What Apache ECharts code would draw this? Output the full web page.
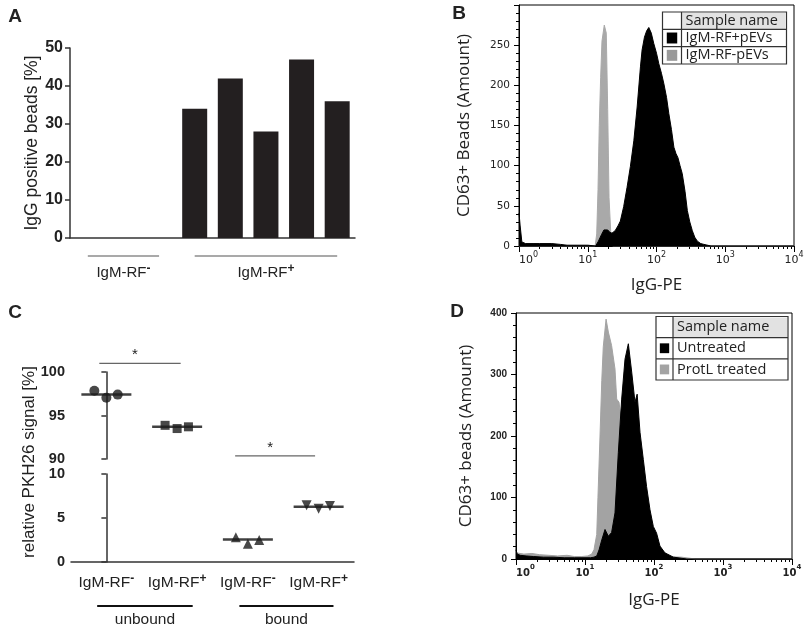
<!DOCTYPE html>
<html>
<head>
<meta charset="utf-8">
<script src="https://cdn.jsdelivr.net/npm/echarts@6.0.0/dist/echarts.min.js"></script>
<style>
html, body { margin: 0; padding: 0; background: #fff; }
#main { width: 810px; height: 624px; }
</style>
</head>
<body>
<div id="main"></div>
<script>
// ---- panel A: IgG positive beads per donor
var aCats = ['neg1', 'neg2', 'neg3', 'pos1', 'pos2', 'pos3', 'pos4', 'pos5'];
var aValues = [0, 0, 0, 34, 42, 28, 47, 36];
var aGroupNames = ['IgM-RF', 'IgM-RF'];
var aGroupSups = ['-', '+'];
var aGroupSpan = [[0, 2], [3, 7]];

// ---- panel B: histogram, IgG-PE (x) vs count (y)
var bPosX = [1.0, 1.04, 1.1, 1.25, 1.6, 2, 3, 4, 5, 7, 10, 13, 14.3, 15.8, 17.2, 18.2, 19.5, 21, 22.5, 25, 27.5, 29.8, 33.3, 37.3, 41.7, 46.8, 52.3, 58.4, 61.7, 66.8, 72, 77.3, 84, 91.3, 100, 108, 118, 128, 140, 151, 165, 179, 192, 205, 220, 237, 260, 281, 305, 332, 360, 393, 440, 490, 620, 10000];
var bPosY = [41, 25, 5, 3, 3, 3, 3, 2, 1, 1, 1, 0, 6, 14, 20, 22, 20, 17, 16, 19, 25, 31, 49, 73, 99, 131, 173, 223, 244, 260, 268, 272, 265, 252, 240, 227, 215, 202, 185, 165, 145, 123, 115, 110, 100, 90, 68, 44, 30, 19, 11, 6, 3, 2, 0, 0];
var bNegX = [1, 12.8, 13.5, 14.1, 14.7, 15.4, 16.1, 17.4, 18.6, 19.5, 20.4, 21.8, 23, 10000];
var bNegY = [0, 0, 15, 70, 150, 210, 255, 275, 265, 170, 60, 10, 0, 0];
var bLegend = ['Sample name', 'IgM-RF+pEVs', 'IgM-RF-pEVs'];

// ---- panel C: relative PKH26 signal
var cCats = ['unbound IgM-RF-', 'unbound IgM-RF+', 'bound IgM-RF-', 'bound IgM-RF+'];
var cCatName = 'IgM-RF';
var cCatSups = ['-', '+', '-', '+'];
var cJitter = [-0.17, 0, 0.16];
var cUnbNeg = [97.85, 97.05, 97.4];
var cUnbPos = [93.87, 93.5, 93.7];
var cBndNeg = [2.82, 2.06, 2.5];
var cBndPos = [6.45, 6.06, 6.37];
var cMeans = [97.4, 93.7, 2.55, 6.28];
var cSigSpan = [[-0.1, 1.05], [1.82, 2.95]];
var cSigY = [101.0, 90.35];
var cGroupNames = ['unbound', 'bound'];
var cGroupSpan = [[-0.13, 1.22], [1.88, 3.21]];

// ---- panel D: histogram, untreated vs ProtL treated
var dUntrX = [1, 1.04, 1.15, 1.4, 1.8, 2.5, 3.5, 5, 7, 10, 12, 13.5, 14.8, 16, 17.5, 19.5, 21.8, 24.3, 27.2, 30.4, 34, 38, 42.5, 47.5, 53, 57, 62.7, 70, 78, 87.5, 97.7, 109, 122, 144, 191, 300, 10000];
var dUntrY = [15, 8, 6, 5, 4, 3, 3, 2, 2, 2, 2, 3, 5, 15, 31, 48, 37, 43, 75, 173, 260, 325, 350, 304, 255, 268, 206, 162, 118, 80, 53, 42, 21, 10, 3, 0, 0];
var dProtX = [1, 1.3, 1.7, 2.2, 3, 4, 5.5, 7, 9, 11, 12.5, 13.5, 14.8, 15.4, 16.5, 17.5, 18.4, 20.2, 21.8, 24.3, 27.2, 28.8, 31.1, 33.3, 35.2, 40, 50, 60, 80, 120, 250, 400, 10000];
var dProtY = [10, 8, 9, 7, 6, 5, 6, 4, 4, 5, 8, 15, 40, 100, 200, 290, 345, 390, 369, 347, 309, 260, 255, 228, 184, 120, 50, 20, 8, 4, 3, 0, 0];
var dLegend = ['Sample name', 'Untreated', 'ProtL treated'];

// log axis ticks
var logMajor = [1, 10, 100, 1000, 10000];
var logMinor = [];
for (var d = 1; d < 10000; d *= 10) {
    for (var k = 2; k < 10; k++) logMinor.push(d * k);
}

var ARIAL = '"Liberation Sans", Arial, sans-serif';
var CALI = '"Open Sans", sans-serif';
var INK = '#222';

function pairs(xs, ys) {
    var out = [];
    for (var i = 0; i < xs.length; i++) out.push([xs[i], ys[i]]);
    return out;
}
function jittered(group, vals) {
    var out = [];
    for (var i = 0; i < vals.length; i++) out.push([group + cJitter[i], vals[i]]);
    return out;
}

function logLabel(v) {
    return '{b|10}{s|' + Math.round(Math.log10(v)) + '}';
}

function logAxes(grid, fontWeight, fontSize, supSize) {
    return [{
        type: 'log', gridIndex: grid, min: 1, max: 10000, position: 'bottom',
        axisLine: {lineStyle: {color: '#000', width: 1}},
        axisTick: {show: true, length: 6, customValues: logMajor, lineStyle: {color: '#000'}},
        axisLabel: {
            customValues: logMajor, margin: 5, formatter: logLabel, alignMinLabel: 'left',
            rich: {
                b: {fontSize: fontSize, fontWeight: fontWeight, fontFamily: 'DejaVu Sans', color: INK, lineHeight: 18},
                s: {fontSize: supSize, fontWeight: fontWeight, fontFamily: 'DejaVu Sans', color: INK, verticalAlign: 'top'}
            }
        },
        splitLine: {show: false},
        name: 'IgG-PE', nameLocation: 'middle',
        nameTextStyle: {fontFamily: CALI, fontSize: 17, color: INK}
    }, {
        type: 'log', gridIndex: grid, min: 1, max: 10000, position: 'bottom',
        axisLine: {show: false},
        axisTick: {show: true, length: 3, customValues: logMinor, lineStyle: {color: '#000'}},
        axisLabel: {show: false},
        splitLine: {show: false}
    }];
}

var bX = logAxes(1, 'normal', 11, 8);
bX[0].nameGap = 31;
var dX = logAxes(4, 'bold', 10, 7);
dX[0].nameGap = 33;

var histArea = function (name, x, y, color, xi, yi, z) {
    return {
        name: name, type: 'line', xAxisIndex: xi, yAxisIndex: yi, z: z,
        data: pairs(x, y), showSymbol: false, symbol: 'none',
        lineStyle: {color: color, width: 1}, areaStyle: {color: color, opacity: 1},
        itemStyle: {color: color}
    };
};

var axisGray = {color: '#333', width: 1.5};

var option = {
    animation: false,
    backgroundColor: '#fff',
    grid: [
        {left: 70, top: 48, width: 285, height: 190, outerBoundsMode: 'none'},
        {left: 519, top: 5, width: 275, height: 241, show: true, borderColor: '#000', borderWidth: 1, outerBoundsMode: 'none'},
        {left: 71, top: 372, width: 283, height: 87, outerBoundsMode: 'none'},
        {left: 71, top: 474, width: 283, height: 88, outerBoundsMode: 'none'},
        {left: 516, top: 313, width: 276, height: 246, show: true, borderColor: '#000', borderWidth: 1, outerBoundsMode: 'none'}
    ],
    xAxis: [
        {
            type: 'category', gridIndex: 0, data: aCats,
            axisLine: {lineStyle: axisGray},
            axisTick: {alignWithLabel: true, length: 6, lineStyle: axisGray},
            axisLabel: {show: false}
        },
        bX[0], bX[1],
        {type: 'value', gridIndex: 2, min: -0.5, max: 3.5, show: false},
        {
            type: 'category', gridIndex: 3, data: cCats,
            axisLine: {lineStyle: axisGray},
            axisTick: {alignWithLabel: true, length: 6, lineStyle: axisGray},
            axisLabel: {
                margin: 11, interval: 0, hideOverlap: false,
                formatter: function (v, i) { return '{n|' + cCatName + '}{s|' + cCatSups[i] + '}'; },
                rich: {
                    n: {fontSize: 15.5, fontFamily: ARIAL, color: INK, lineHeight: 20},
                    s: {fontSize: 12, fontWeight: 'bold', fontFamily: ARIAL, color: INK, verticalAlign: 'top'}
                }
            }
        },
        {type: 'value', gridIndex: 3, min: -0.5, max: 3.5, show: false},
        dX[0], dX[1]
    ],
    yAxis: [
        {
            type: 'value', gridIndex: 0, min: 0, max: 50, interval: 10,
            axisLine: {show: true, lineStyle: axisGray},
            axisTick: {show: true, length: 5, lineStyle: axisGray},
            axisLabel: {fontFamily: ARIAL, fontWeight: 'bold', fontSize: 16, color: INK, margin: 7},
            splitLine: {show: false},
            name: 'IgG positive beads [%]', nameLocation: 'middle', nameGap: 28,
            nameTextStyle: {fontFamily: ARIAL, fontSize: 17.5, color: INK}
        },
        {
            type: 'value', gridIndex: 1, min: 0, max: 300, interval: 50,
            axisLine: {show: true, lineStyle: {color: '#000'}},
            axisTick: {show: true, length: 5, lineStyle: {color: '#000'}},
            minorTick: {show: true, splitNumber: 5, length: 3, lineStyle: {color: '#000'}},
            axisLabel: {fontFamily: 'DejaVu Sans', fontSize: 10.5, color: INK, margin: 9, showMaxLabel: false},
            splitLine: {show: false},
            name: 'CD63+ Beads (Amount)', nameLocation: 'middle', nameGap: 46,
            nameTextStyle: {fontFamily: CALI, fontSize: 17, color: INK}
        },
        {
            type: 'value', gridIndex: 2, min: 90, max: 100, interval: 5,
            axisLine: {show: true, lineStyle: axisGray},
            axisTick: {show: true, length: 5, lineStyle: axisGray},
            axisLabel: {fontFamily: ARIAL, fontWeight: 'bold', fontSize: 14.5, color: INK, margin: 6},
            splitLine: {show: false}
        },
        {
            type: 'value', gridIndex: 3, min: 0, max: 10, interval: 5,
            axisLine: {show: true, lineStyle: axisGray},
            axisTick: {show: true, length: 5, lineStyle: axisGray},
            axisLabel: {fontFamily: ARIAL, fontWeight: 'bold', fontSize: 14.5, color: INK, margin: 6},
            splitLine: {show: false}
        },
        {
            type: 'value', gridIndex: 4, min: 0, max: 400, interval: 100,
            axisLine: {show: true, lineStyle: {color: '#000'}},
            axisTick: {show: true, length: 5, lineStyle: {color: '#000'}},
            minorTick: {show: true, splitNumber: 5, length: 3, lineStyle: {color: '#000'}},
            axisLabel: {fontFamily: ARIAL, fontWeight: 'bold', fontSize: 10, color: INK, margin: 9},
            splitLine: {show: false},
            name: 'CD63+ beads (Amount)', nameLocation: 'middle', nameGap: 41,
            nameTextStyle: {fontFamily: CALI, fontSize: 17, color: INK}
        }
    ],
    series: [
        {
            type: 'bar', xAxisIndex: 0, yAxisIndex: 0, data: aValues, barWidth: 25,
            itemStyle: {color: '#231f20', borderWidth: 0}
        },
        histArea('IgM-RF-pEVs', bNegX, bNegY, '#a9a9a9', 1, 1, 2),
        histArea('IgM-RF+pEVs', bPosX, bPosY, '#000', 1, 1, 3),
        {
            type: 'scatter', xAxisIndex: 3, yAxisIndex: 2, z: 3,
            data: [[0, cMeans[0]], [1, cMeans[1]]],
            symbol: 'rect', symbolSize: [50, 2.5], itemStyle: {color: '#111'}
        },
        {
            type: 'scatter', xAxisIndex: 5, yAxisIndex: 3, z: 3,
            data: [[2, cMeans[2]], [3, cMeans[3]]],
            symbol: 'rect', symbolSize: [50, 2.5], itemStyle: {color: '#111'}
        },
        {type: 'scatter', xAxisIndex: 3, yAxisIndex: 2, z: 4, data: jittered(0, cUnbNeg), symbol: 'circle', symbolSize: 10, itemStyle: {color: '#1a1a1a'}},
        {type: 'scatter', xAxisIndex: 3, yAxisIndex: 2, z: 4, data: jittered(1, cUnbPos), symbol: 'rect', symbolSize: 9, itemStyle: {color: '#1a1a1a'}},
        {type: 'scatter', xAxisIndex: 5, yAxisIndex: 3, z: 4, data: jittered(2, cBndNeg), symbol: 'triangle', symbolSize: 10, itemStyle: {color: '#1a1a1a'}},
        {type: 'scatter', xAxisIndex: 5, yAxisIndex: 3, z: 4, data: jittered(3, cBndPos), symbol: 'triangle', symbolRotate: 180, symbolSize: 10, itemStyle: {color: '#1a1a1a'}},
        histArea('ProtL treated', dProtX, dProtY, '#a3a3a3', 6, 4, 2),
        histArea('Untreated', dUntrX, dUntrY, '#000', 6, 4, 3)
    ]
};

var chart = echarts.init(document.getElementById('main'));
chart.setOption(option);

// ---- annotations (drawn from axis positions)
function txt(x, y, text, font, extra) {
    var el = {
        type: 'text', x: x, y: y, silent: true, z: 100,
        style: {text: text, font: font, fill: INK, align: 'center', verticalAlign: 'middle',
            textAlign: 'center', textVerticalAlign: 'middle'}
    };
    if (extra) {
        for (var key in extra) {
            if (key === 'style') {
                for (var s in extra.style) el.style[s] = extra.style[s];
            } else el[key] = extra[key];
        }
    }
    return el;
}
function seg(x1, y1, x2, y2, color, w) {
    return {type: 'line', silent: true, z: 100, shape: {x1: x1, y1: y1, x2: x2, y2: y2},
        style: {stroke: color, lineWidth: w}};
}
function box(x, y, w, h, fill, stroke) {
    return {type: 'rect', silent: true, z: 100, shape: {x: x, y: y, width: w, height: h},
        style: {fill: fill, stroke: stroke || null, lineWidth: 1.2}};
}
function legendTable(x, y, w, h, colW, labels, colors, font) {
    var rowH = h / 3;
    var els = [];
    els.push(box(x, y, w, h, '#fff', '#333'));
    els.push(box(x + colW, y + 1, w - colW - 1, rowH - 1, '#e2e2e2'));
    els.push(seg(x, y + rowH, x + w, y + rowH, '#333', 1.2));
    els.push(seg(x, y + 2 * rowH, x + w, y + 2 * rowH, '#333', 1.2));
    els.push(seg(x + colW, y, x + colW, y + h, '#333', 1.2));
    for (var i = 0; i < 3; i++) {
        els.push(txt(x + colW + 4, y + rowH * (i + 0.5), labels[i], font,
            {style: {align: 'left', textAlign: 'left'}}));
        if (i > 0) {
            var sq = colW * 0.55;
            els.push(box(x + (colW - sq) / 2, y + rowH * i + (rowH - sq * 1.05) / 2, sq, sq * 1.05, colors[i - 1]));
        }
    }
    return els;
}

var g = [];
var letterFont = 'bold 19px ' + ARIAL;
g.push(txt(15, 17, 'A', letterFont));
g.push(txt(459, 14, 'B', letterFont));
g.push(txt(15, 313, 'C', letterFont));
g.push(txt(457, 312, 'D', letterFont));

var supRich = {
    n: {fontSize: 15, fontFamily: ARIAL, color: INK, lineHeight: 20},
    s: {fontSize: 12, fontWeight: 'bold', fontFamily: ARIAL, color: INK, verticalAlign: 'top'}
};

// panel A group brackets
var aBottom = chart.convertToPixel({yAxisIndex: 0}, 0);
for (var i = 0; i < aGroupSpan.length; i++) {
    var x1 = chart.convertToPixel({xAxisIndex: 0}, aGroupSpan[i][0]);
    var x2 = chart.convertToPixel({xAxisIndex: 0}, aGroupSpan[i][1]);
    g.push(seg(x1, aBottom + 18, x2, aBottom + 18, '#555', 1.2));
    g.push(txt((x1 + x2) / 2, aBottom + 35, '{n|' + aGroupNames[i] + '}{s|' + aGroupSups[i] + '}', '15px ' + ARIAL,
        {style: {rich: supRich}}));
}

// panel C y name
g.push(txt(29, 462, 'relative PKH26 signal [%]', '17px ' + ARIAL, {rotation: Math.PI / 2}));

// panel C significance bars
for (var i = 0; i < cSigSpan.length; i++) {
    var sx1 = chart.convertToPixel({xAxisIndex: 3}, cSigSpan[i][0]);
    var sx2 = chart.convertToPixel({xAxisIndex: 3}, cSigSpan[i][1]);
    var sy = chart.convertToPixel({yAxisIndex: 2}, cSigY[i]);
    g.push(seg(sx1, sy, sx2, sy, '#666', 1.2));
    g.push(txt((sx1 + sx2) / 2 - 5, sy - 8, '*', '15px ' + ARIAL));
}

// panel C group lines under the axis
var cBottom = chart.convertToPixel({yAxisIndex: 3}, 0);
for (var i = 0; i < cGroupSpan.length; i++) {
    var gx1 = chart.convertToPixel({xAxisIndex: 5}, cGroupSpan[i][0]);
    var gx2 = chart.convertToPixel({xAxisIndex: 5}, cGroupSpan[i][1]);
    g.push(seg(gx1, cBottom + 44, gx2, cBottom + 44, '#111', 2));
    g.push(txt((gx1 + gx2) / 2, cBottom + 58, cGroupNames[i], '15.5px ' + ARIAL));
}

// legends
g = g.concat(legendTable(662.5, 12, 124, 52, 19, bLegend, ['#000', '#9a9a9a'], '14.5px ' + CALI));
g = g.concat(legendTable(656, 316.5, 132, 63.5, 17, dLegend, ['#000', '#a3a3a3'], '14.5px ' + CALI));

chart.setOption({graphic: g});
</script>
</body>
</html>
